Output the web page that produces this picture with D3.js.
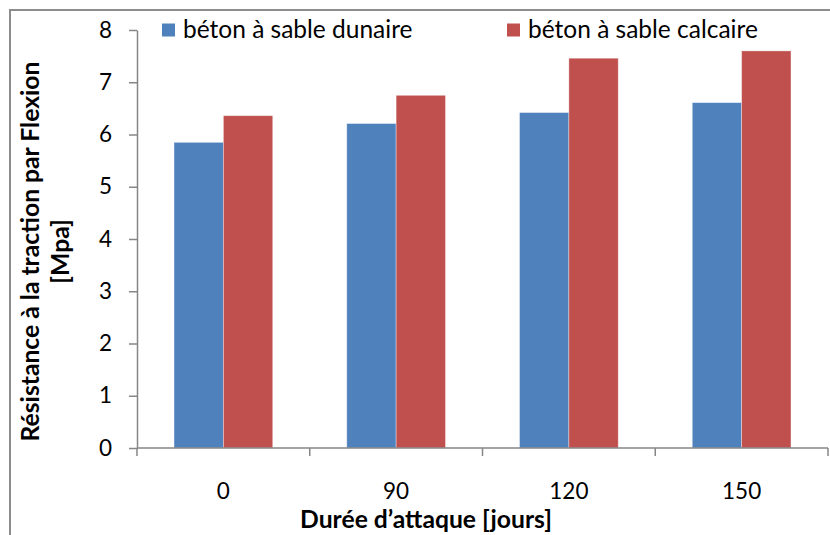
<!DOCTYPE html>
<html>
<head>
<meta charset="utf-8">
<script src="https://cdn.jsdelivr.net/npm/d3@7"></script>
<style>
  html, body { margin: 0; padding: 0; background: #fff; }
  svg { display: block; font-family: Lato, "Open Sans", sans-serif; }
</style>
</head>
<body>
<svg id="chart" width="830" height="535"></svg>
<script>
// Durée d'attaque (jours) and flexural strength of the two concretes
const categories = ["0", "90", "120", "150"];
const seriesNames = ["béton à sable dunaire", "béton à sable calcaire"];
const dunaire = [5.85, 6.21, 6.42, 6.61];
const calcaire = [6.36, 6.75, 7.46, 7.60];
const yTicks = [0, 1, 2, 3, 4, 5, 6, 7, 8];
const colors = ["#4F81BD", "#C0504D"];

const svg = d3.select("#chart");

// outer frame of the chart
svg.append("rect")
  .attr("x", 10).attr("y", 10)
  .attr("width", 840).attr("height", 560)
  .attr("fill", "none").attr("stroke", "#8c8c8c").attr("stroke-width", 2);

const plot = { left: 137, right: 828, top: 30, bottom: 448 };

const x0 = d3.scaleBand().domain(categories)
  .range([plot.left, plot.right]).paddingInner(0).paddingOuter(0);
const x1 = d3.scaleBand().domain([0, 1])
  .range([0, x0.bandwidth()]).paddingInner(0).paddingOuter(0.75);
const y = d3.scaleLinear().domain([0, 8]).range([plot.bottom, plot.top]);

const rows = categories.map((c, i) => ({ cat: c, vals: [dunaire[i], calcaire[i]] }));

// bars
const groups = svg.append("g").selectAll("g").data(rows).join("g")
  .attr("transform", d => `translate(${x0(d.cat)},0)`);
groups.selectAll("rect").data(d => d.vals.map((v, k) => ({ k, v }))).join("rect")
  .attr("x", d => x1(d.k))
  .attr("y", d => y(d.v))
  .attr("width", x1.bandwidth())
  .attr("height", d => y(0) - y(d.v))
  .attr("fill", d => colors[d.k])
  .attr("stroke", "rgba(255,255,255,0.45)")
  .attr("stroke-width", 0.8);

// y axis
const yAxis = svg.append("g")
  .attr("transform", `translate(${plot.left},0)`)
  .call(d3.axisLeft(y).tickValues(yTicks).tickFormat(d3.format("d")).tickSize(8).tickSizeOuter(0));
yAxis.select(".domain").attr("stroke", "#868686").attr("stroke-width", 1.5);
yAxis.selectAll(".tick line").attr("stroke", "#868686").attr("stroke-width", 1.5);
yAxis.selectAll(".tick text")
  .attr("x", -25).attr("font-size", 22.5).attr("fill", "#000")
  .attr("font-family", "Lato, 'Open Sans', sans-serif");

// x axis: ticks between categories
const xAxisG = svg.append("g").attr("transform", `translate(0,${plot.bottom})`);
xAxisG.append("line")
  .attr("x1", plot.left).attr("x2", plot.right)
  .attr("stroke", "#868686").attr("stroke-width", 1.5);
const boundaries = categories.map(c => x0(c)).concat([plot.right]);
xAxisG.selectAll("line.tk").data(boundaries).join("line")
  .attr("class", "tk")
  .attr("x1", d => d).attr("x2", d => d)
  .attr("y1", 0).attr("y2", 8)
  .attr("stroke", "#868686").attr("stroke-width", 1.5);
xAxisG.selectAll("text").data(categories).join("text")
  .attr("x", d => x0(d) + x0.bandwidth() / 2)
  .attr("y", 50.5)
  .attr("text-anchor", "middle")
  .attr("font-size", 22.5)
  .text(d => d);

// axis titles
svg.append("text")
  .attr("x", 426).attr("y", 528)
  .attr("text-anchor", "middle")
  .attr("font-size", 24.7).attr("font-weight", "bold")
  .text("Durée d’attaque [jours]");

const yTitle = svg.append("text")
  .attr("transform", "translate(0,251.5) rotate(-90)")
  .attr("text-anchor", "middle")
  .attr("font-size", 24.7).attr("font-weight", "bold");
yTitle.append("tspan").attr("x", 0).attr("y", 38.5).text("Résistance à la traction par Flexion");
yTitle.append("tspan").attr("x", 0).attr("y", 69).text("[Mpa]");

// legend
const legendX = [162, 507];
const legend = svg.append("g").selectAll("g").data(seriesNames).join("g")
  .attr("transform", (d, i) => `translate(${legendX[i]},23.5)`);
legend.append("rect")
  .attr("width", 13).attr("height", 13)
  .attr("fill", (d, i) => colors[i]);
legend.append("text")
  .attr("x", 21).attr("y", 14)
  .attr("font-size", 24.5)
  .text(d => d);
</script>
</body>
</html>
